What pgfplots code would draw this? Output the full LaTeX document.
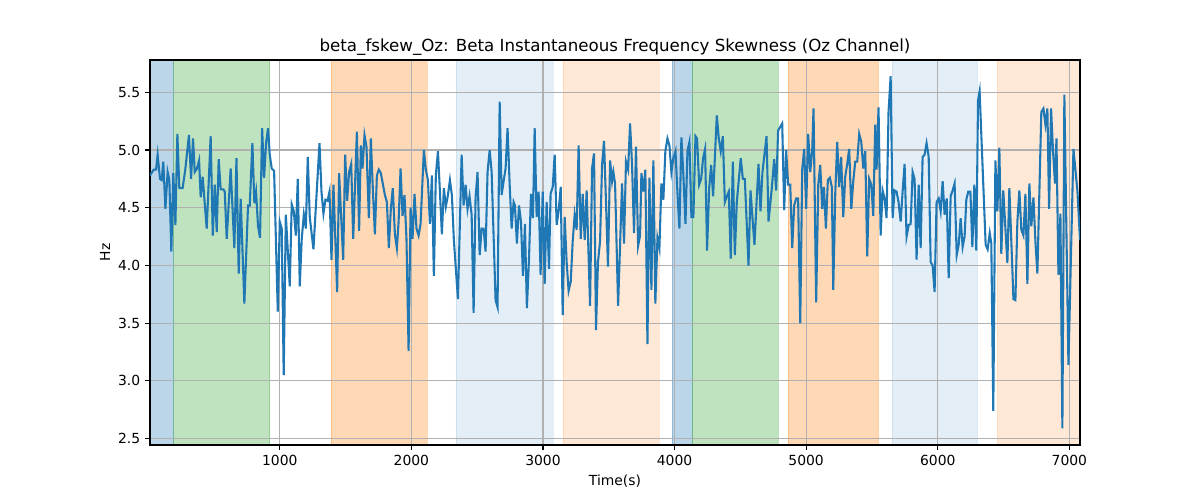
\documentclass[border=0pt]{standalone}
\usepackage{pgfplots}
\pgfplotsset{compat=1.18}
\usepackage{fontspec}
\setmainfont{DejaVu Sans}
\definecolor{c0}{HTML}{1F77B4}
\definecolor{c1}{HTML}{FF7F0E}
\definecolor{c2}{HTML}{2CA02C}
\definecolor{gridc}{HTML}{B0B0B0}
\begin{document}
\begin{tikzpicture}
\begin{axis}[
  set layers,
  at={(0,0)}, anchor=south west,
  scale only axis, width=669.6pt, height=277.2pt,
  xmin=14, xmax=7081, ymin=2.445, ymax=5.78,
  xtick={1000,2000,3000,4000,5000,6000,7000},
  ytick={2.5,3.0,3.5,4.0,4.5,5.0,5.5},
  xtick pos=bottom, ytick pos=left,
  grid=major, grid style={gridc, line width=0.8pt},
  tick align=outside, major tick length=3.5pt,
  tick style={black, line width=0.8pt},
  axis line style={black, line width=0.8pt},
  ticklabel style={font=\fontsize{10}{12}\selectfont},
  /pgf/number format/assume math mode=true,
  xticklabel style={/pgf/number format/.cd, set thousands separator={}},
  yticklabel style={/pgf/number format/.cd, fixed, fixed zerofill, precision=1},
  xlabel={Time(s)}, ylabel={Hz},
  label style={font=\fontsize{10}{12}\selectfont},
  xlabel style={at={(axis description cs:0.5,-0.0938)}, anchor=center},
  ylabel style={at={(axis description cs:-0.0484,0.5)}, anchor=center},
  title={beta\_fskew\_Oz: Beta Instantaneous Frequency Skewness (Oz Channel)},
  title style={font=\fontsize{12}{14}\selectfont, at={(axis description cs:0.5,1)}, anchor=base},
]
\addplot[on layer=axis background, draw=c0, draw opacity=0.3, fill=c0, fill opacity=0.3, forget plot] coordinates {(14,2.445) (194,2.445) (194,5.78) (14,5.78) (14,2.445)};
\addplot[on layer=axis background, draw=c2, draw opacity=0.3, fill=c2, fill opacity=0.3, forget plot] coordinates {(194,2.445) (924,2.445) (924,5.78) (194,5.78) (194,2.445)};
\addplot[on layer=axis background, draw=c1, draw opacity=0.3, fill=c1, fill opacity=0.3, forget plot] coordinates {(1388,2.445) (2118,2.445) (2118,5.78) (1388,5.78) (1388,2.445)};
\addplot[on layer=axis background, draw=c0, draw opacity=0.12, fill=c0, fill opacity=0.12, forget plot] coordinates {(2339,2.445) (3076,2.445) (3076,5.78) (2339,5.78) (2339,2.445)};
\addplot[on layer=axis background, draw=c1, draw opacity=0.17, fill=c1, fill opacity=0.17, forget plot] coordinates {(3152,2.445) (3882,2.445) (3882,5.78) (3152,5.78) (3152,2.445)};
\addplot[on layer=axis background, draw=c0, draw opacity=0.3, fill=c0, fill opacity=0.3, forget plot] coordinates {(3981,2.445) (4133,2.445) (4133,5.78) (3981,5.78) (3981,2.445)};
\addplot[on layer=axis background, draw=c2, draw opacity=0.3, fill=c2, fill opacity=0.3, forget plot] coordinates {(4133,2.445) (4787,2.445) (4787,5.78) (4133,5.78) (4133,2.445)};
\addplot[on layer=axis background, draw=c1, draw opacity=0.3, fill=c1, fill opacity=0.3, forget plot] coordinates {(4863,2.445) (5548,2.445) (5548,5.78) (4863,5.78) (4863,2.445)};
\addplot[on layer=axis background, draw=c0, draw opacity=0.12, fill=c0, fill opacity=0.12, forget plot] coordinates {(5654,2.445) (6301,2.445) (6301,5.78) (5654,5.78) (5654,2.445)};
\addplot[on layer=axis background, draw=c1, draw opacity=0.17, fill=c1, fill opacity=0.17, forget plot] coordinates {(6453,2.445) (7081,2.445) (7081,5.78) (6453,5.78) (6453,2.445)};
\addplot[c0, line width=1.5pt, mark=none] table {
14 4.78
42 4.83
60 4.83
72 4.96
90 4.75
103 4.74
115 4.90
131 4.49
148 4.81
161 4.74
176 4.12
191 4.80
207 4.35
222 5.14
237 4.67
262 4.67
283 4.84
310 5.13
326 4.75
341 5.10
354 4.81
371 4.84
387 4.91
399 4.59
414 4.77
445 4.32
475 5.12
491 4.26
506 4.70
521 4.29
536 4.92
551 4.66
572 4.66
582 4.64
597 4.23
627 4.84
655 4.15
671 4.93
688 3.93
703 4.58
731 3.67
759 4.52
772 4.52
792 5.06
807 4.54
820 4.64
835 4.34
850 4.24
866 5.19
881 4.76
896 5.06
911 5.19
924 4.96
939 4.84
957 4.82
985 3.60
1000 4.38
1015 4.32
1030 3.05
1046 4.44
1076 3.82
1091 4.53
1107 4.47
1122 4.26
1137 4.75
1152 3.82
1167 4.23
1183 4.44
1198 4.32
1213 4.94
1228 4.42
1256 4.14
1302 5.06
1317 4.64
1332 4.45
1347 4.57
1363 4.56
1378 4.64
1393 4.05
1408 4.70
1436 3.77
1451 4.80
1482 4.05
1497 4.96
1512 4.56
1527 4.81
1543 4.88
1558 4.23
1586 5.16
1603 4.30
1616 5.04
1629 4.84
1644 5.13
1659 5.03
1677 4.41
1692 5.10
1707 4.67
1723 4.27
1738 4.78
1753 4.83
1768 4.80
1799 4.61
1814 4.55
1829 4.15
1844 4.49
1859 4.67
1875 4.27
1890 4.15
1903 4.38
1918 4.84
1933 4.43
1948 4.61
1963 4.23
1979 3.26
1994 4.50
2009 4.23
2024 4.62
2039 4.32
2055 4.26
2070 4.36
2095 5.00
2110 4.83
2126 4.74
2141 4.36
2156 4.78
2171 3.91
2186 4.78
2202 4.99
2217 4.64
2232 4.27
2247 4.67
2262 4.51
2278 4.61
2293 4.74
2308 4.61
2323 4.22
2354 3.71
2382 4.96
2397 4.52
2412 4.70
2427 4.49
2442 4.60
2458 4.44
2473 3.59
2488 4.59
2503 4.81
2519 4.09
2534 4.32
2549 4.32
2564 4.12
2579 4.81
2595 5.00
2610 4.81
2640 3.70
2655 3.64
2671 5.42
2686 4.61
2701 4.73
2716 4.84
2731 5.19
2747 4.70
2762 4.32
2777 4.55
2787 4.52
2802 4.19
2818 4.52
2833 4.38
2848 3.91
2863 4.36
2878 3.63
2894 4.06
2909 4.62
2924 4.41
2937 5.19
2952 4.42
2967 4.64
2982 3.92
2998 4.64
3013 3.84
3028 4.55
3046 3.97
3058 4.62
3074 4.68
3089 4.96
3104 4.35
3119 4.47
3135 4.68
3150 3.57
3165 4.42
3180 4.03
3195 3.78
3211 3.86
3226 4.21
3241 4.44
3256 4.31
3271 5.04
3287 4.23
3302 4.62
3317 4.22
3332 4.65
3358 3.65
3373 4.84
3388 4.97
3403 3.44
3418 4.03
3434 4.21
3449 4.87
3464 5.08
3479 4.55
3494 3.99
3510 4.91
3525 4.73
3535 4.81
3548 4.71
3571 3.65
3601 4.71
3616 4.19
3631 4.90
3647 4.83
3662 5.23
3677 4.87
3692 4.28
3707 5.03
3723 4.17
3738 4.26
3748 4.80
3763 4.64
3778 4.83
3794 3.32
3809 4.76
3824 3.79
3839 4.91
3854 3.67
3870 4.24
3885 4.15
3900 4.71
3915 4.57
3930 4.99
3946 5.10
3961 5.04
3976 4.81
3991 4.93
4007 4.99
4022 4.63
4037 4.32
4052 5.11
4067 4.78
4083 4.36
4098 4.99
4113 5.07
4128 4.42
4143 4.42
4159 5.12
4171 5.10
4187 4.70
4202 4.75
4217 4.93
4232 5.01
4247 4.13
4263 4.67
4278 4.87
4293 4.60
4321 5.30
4336 5.10
4351 4.99
4367 5.12
4382 4.55
4397 4.60
4412 4.64
4427 4.06
4443 4.90
4458 4.09
4473 4.55
4503 4.93
4519 4.75
4534 4.75
4562 4.00
4577 4.65
4607 4.18
4638 4.88
4653 4.47
4668 4.81
4699 5.12
4714 4.38
4739 4.67
4757 4.92
4772 4.65
4787 5.17
4803 5.20
4818 5.23
4833 4.48
4848 5.00
4863 4.70
4879 4.70
4894 4.15
4909 4.52
4924 4.58
4939 4.58
4955 3.50
4970 4.83
4985 5.01
5000 4.49
5015 5.14
5031 4.81
5046 5.00
5056 5.36
5076 3.68
5092 4.70
5107 4.87
5122 4.49
5135 4.68
5150 4.32
5165 4.74
5180 4.76
5195 4.68
5206 3.79
5221 4.62
5236 5.07
5251 4.68
5266 4.94
5282 4.42
5297 4.77
5312 4.88
5327 5.01
5343 4.49
5358 4.73
5373 4.90
5388 4.90
5403 5.14
5419 5.07
5434 4.84
5449 4.99
5464 4.08
5479 4.75
5495 4.70
5510 4.43
5525 5.22
5535 4.83
5550 5.37
5566 4.26
5581 4.65
5596 4.58
5611 4.41
5626 5.33
5642 5.64
5657 4.41
5672 4.65
5687 4.64
5702 4.55
5718 4.38
5733 4.64
5748 4.88
5763 4.25
5779 4.35
5794 4.36
5809 4.81
5824 4.75
5839 4.05
5855 4.70
5870 4.15
5885 4.94
5900 4.96
5915 5.06
5931 4.94
5946 4.03
5961 4.00
5976 3.77
5991 4.55
6007 4.58
6022 4.47
6037 4.73
6052 4.44
6068 4.58
6083 3.89
6098 4.60
6113 4.65
6128 4.71
6144 4.09
6159 4.18
6174 4.41
6189 4.16
6204 4.25
6217 4.57
6232 4.64
6248 4.64
6263 4.16
6278 4.70
6293 4.13
6306 5.43
6318 5.51
6364 4.18
6379 4.14
6395 4.28
6407 4.19
6422 2.74
6438 4.91
6453 4.47
6468 5.02
6483 4.10
6498 4.65
6514 4.32
6529 4.02
6544 4.67
6559 4.21
6575 3.71
6590 3.70
6605 4.38
6620 4.65
6635 4.31
6651 4.26
6666 4.62
6681 3.84
6696 4.71
6711 4.34
6727 4.59
6742 4.21
6757 3.93
6787 5.33
6803 5.36
6818 5.22
6833 5.36
6846 4.49
6861 5.36
6876 4.99
6891 4.71
6902 5.10
6917 3.92
6932 4.45
6947 2.59
6962 5.48
6993 3.14
7031 5.01
7061 4.65
7081 4.22
};
\end{axis}
\pgfresetboundingbox
\useasboundingbox (-108pt,-39.6pt) rectangle (756pt,320.4pt);
\end{tikzpicture}
\end{document}
